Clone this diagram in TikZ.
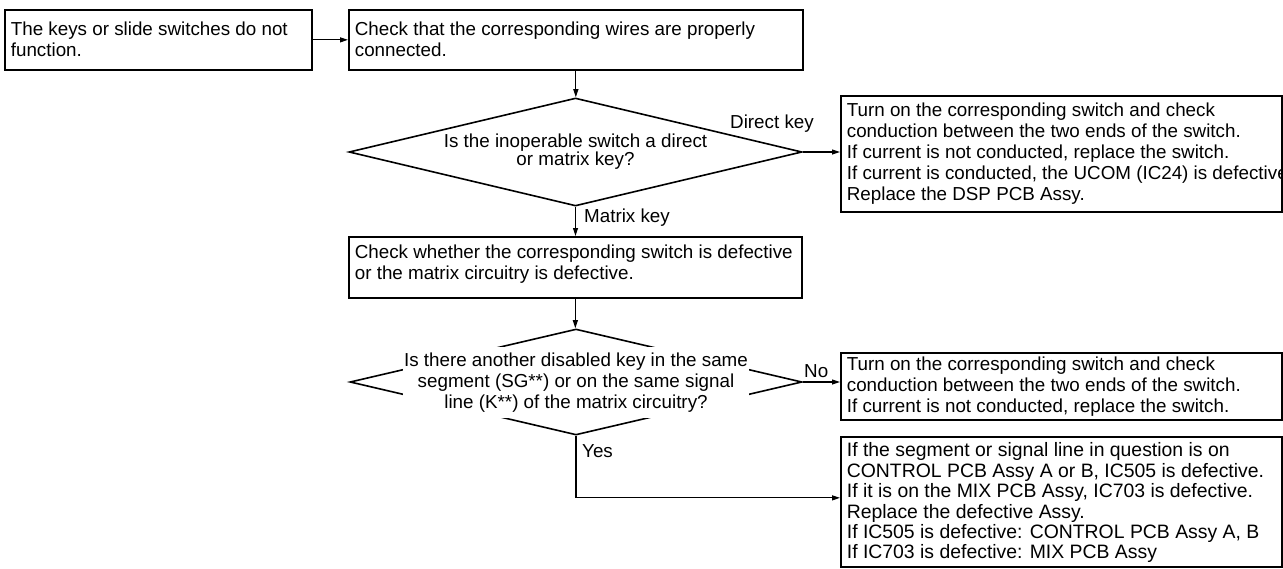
\documentclass[tikz,border=0pt]{standalone}
\usepackage{fontspec}
\setmainfont{Liberation Sans}
\usetikzlibrary{shapes.geometric,arrows.meta,calc}
\newcommand\btxt[4]{\parbox[c][#2][t]{#1}{\raggedright\vspace*{#3}#4}}
\begin{document}
\begin{tikzpicture}[x=1pt,y=-1pt,
  every node/.style={font=\fontsize{18.8}{21}\selectfont},
  fbox/.style={draw, rectangle, line width=1.7pt, anchor=north west, inner xsep=6pt, inner ysep=0pt},
  dec/.style={draw, diamond, line width=1.6pt, inner sep=0pt, align=center},
  arr/.style={line width=1.1pt, -{Triangle[length=8pt,width=5pt]}},
  lbl/.style={inner sep=0pt}
]
\fill[white] (0,0) rectangle (1283,568);
\useasboundingbox (0,0) rectangle (1283,568);

\node[fbox] (a) at (4,9) {\btxt{295pt}{60pt}{12pt}{The keys or slide switches do not\\function.}};
\node[fbox] (b) at (348,9) {\btxt{442pt}{60pt}{12pt}{Check that the corresponding wires are properly\\connected.}};

\node[dec, minimum width=453pt, minimum height=108pt, aspect=4.2,
      font=\fontsize{18.8}{18}\selectfont] (d1) at (575.5,152)
  {Is the inoperable switch a direct\\or matrix key?};

\node[fbox] (c) at (840,95) {\btxt{429pt}{116pt}{7pt}{Turn on the corresponding switch and check\\conduction between the two ends of the switch.\\If current is not conducted, replace the switch.\\\mbox{If current is conducted, the UCOM (IC24) is defective.}\\Replace the DSP PCB Assy.}};

\node[fbox] (d) at (348,236) {\btxt{441pt}{61pt}{8.5pt}{Check whether the corresponding switch is defective\\or the matrix circuitry is defective.}};

\node[dec, minimum width=452pt, minimum height=106pt, aspect=4.26] (d2) at (576,382) {};
\node[fill=white, minimum width=346pt, minimum height=71pt, inner sep=0pt, align=center] (d2t) at (576,382.5)
  {Is there another disabled key in the same\\segment (SG**) or on the same signal\\line (K**) of the matrix circuitry?};

\node[fbox] (e) at (840,352) {\btxt{429pt}{67pt}{4pt}{Turn on the corresponding switch and check\\conduction between the two ends of the switch.\\If current is not conducted, replace the switch.}};

\node[fbox, font=\fontsize{19.4}{20.4}\selectfont] (f) at (840,436) {\btxt{429pt}{130pt}{6pt}{If the segment or signal line in question is on\\CONTROL PCB Assy A or B, IC505 is defective.\\If it is on the MIX PCB Assy, IC703 is defective.\\Replace the defective Assy.\\If IC505 is defective: CONTROL PCB Assy A, B\\If IC703 is defective: MIX PCB Assy}};

\node[lbl, anchor=base east] (ldk) at (814,128) {Direct key};
\node[lbl, anchor=base west] (lmk) at (584,222) {Matrix key};
\node[lbl, anchor=base west] (lno) at (804,377) {No};
\node[lbl, anchor=base west] (lyes) at (582,457) {Yes};

\draw[arr] (a.east) -- (b.west);
\draw[arr] (b.south) -- (b.south |- d1.north);
\draw[arr] (d1.east) -- (d1.east -| c.west);
\draw[arr] (d1.south) -- (d1.south |- d.north);
\draw[arr] (d.south) -- (d.south |- d2.north);
\draw[arr] (d2.east) -- (d2.east -| e.west);
\draw[arr] (d2.south) |- ([yshift=4pt]f.west);
\end{tikzpicture}
\end{document}
